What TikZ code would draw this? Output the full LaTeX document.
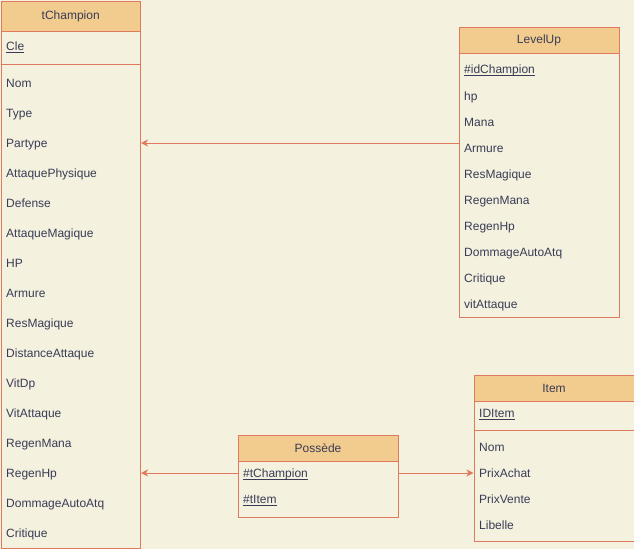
\documentclass[tikz,border=0pt]{standalone}
\usepackage{fontspec}
\setmainfont{Liberation Sans}
\usetikzlibrary{arrows.meta}
\definecolor{paper}{HTML}{F4F1DE}
\definecolor{rim}{HTML}{E07A5F}
\definecolor{headfill}{HTML}{F2CC8F}
\definecolor{ink}{HTML}{393C56}
% underlined key attribute, rule set close under the baseline
\newcommand\keyattr[1]{\setbox0\hbox{#1}\rlap{\usebox0}\rule[-2pt]{\wd0}{1pt}}
\begin{document}
\begin{tikzpicture}[x=1pt,y=-1pt,
  tablebox/.style={draw=rim,fill=paper,line width=1pt,anchor=north west,inner sep=0pt},
  headbox/.style={draw=rim,fill=headfill,line width=1pt,anchor=north west,inner sep=0pt,
    text=ink,font=\fontsize{12}{14}\selectfont},
  field/.style={anchor=base west,inner sep=0pt,text=ink,font=\fontsize{12}{14}\selectfont,yshift=-4.5pt},
  sep/.style={draw=rim,line width=1pt},
  conn/.style={draw=rim,line width=1pt,-{Stealth[length=7pt,width=7pt,inset=2pt]}}]
\fill[paper] (0,0) rectangle (634,549);
\useasboundingbox (0,0) rectangle (634,549);

% tChampion
\node[tablebox,minimum width=139.5,minimum height=547.5] (tch) at (0.5,0.5) {};
\node[headbox,minimum width=139.5,minimum height=30] (tchh) at (0.5,0.5) {tChampion};
\node[field] (tchkey) at (6,46) {\keyattr{Cle}};
\draw[sep] (tch.west |- 0,64) -- (tch.east |- 0,64);
\foreach \t [count=\i from 0] in {Nom,Type,Partype,AttaquePhysique,Defense,AttaqueMagique,HP,Armure,ResMagique,DistanceAttaque,VitDp,VitAttaque,RegenMana,RegenHp,DommageAutoAtq,Critique}
  \node[field] (tch-\i) at (6,83+30*\i) {\t};

% LevelUp
\node[tablebox,minimum width=160,minimum height=290] (lu) at (458.5,26.5) {};
\node[headbox,minimum width=160,minimum height=26] (luh) at (458.5,26.5) {LevelUp};
\node[field] (lukey) at (464,69) {\keyattr{\#idChampion}};
\foreach \t [count=\i from 0] in {hp,Mana,Armure,ResMagique,RegenMana,RegenHp,DommageAutoAtq,Critique,vitAttaque}
  \node[field] (lu-\i) at (464,96+26*\i) {\t};

% Possède
\node[tablebox,minimum width=160,minimum height=82] (pos) at (237.5,434.5) {};
\node[headbox,minimum width=160,minimum height=26] (posh) at (237.5,434.5) {Possède};
\node[field] (posch) at (243,473) {\keyattr{\#tChampion}};
\node[field] (positem) at (243,499) {\keyattr{\#tItem}};

% Item
\node[tablebox,minimum width=160,minimum height=166] (item) at (473.5,374.5) {};
\node[headbox,minimum width=160,minimum height=26] (itemh) at (473.5,374.5) {Item};
\node[field] (itemkey) at (479,413) {\keyattr{IDItem}};
\draw[sep] (item.west |- 0,430) -- (item.east |- 0,430);
\foreach \t [count=\i from 0] in {Nom,PrixAchat,PrixVente,Libelle}
  \node[field] (item-\i) at (479,447+26*\i) {\t};

% links
\coordinate (lvlink) at (0,143);
\coordinate (poslink) at (0,473);
\draw[conn] (lu.west |- lvlink) -- (tch.east |- lvlink);
\draw[conn] (pos.west |- poslink) -- (tch.east |- poslink);
\draw[conn] (pos.east |- poslink) -- (item.west |- poslink);
\end{tikzpicture}
\end{document}
